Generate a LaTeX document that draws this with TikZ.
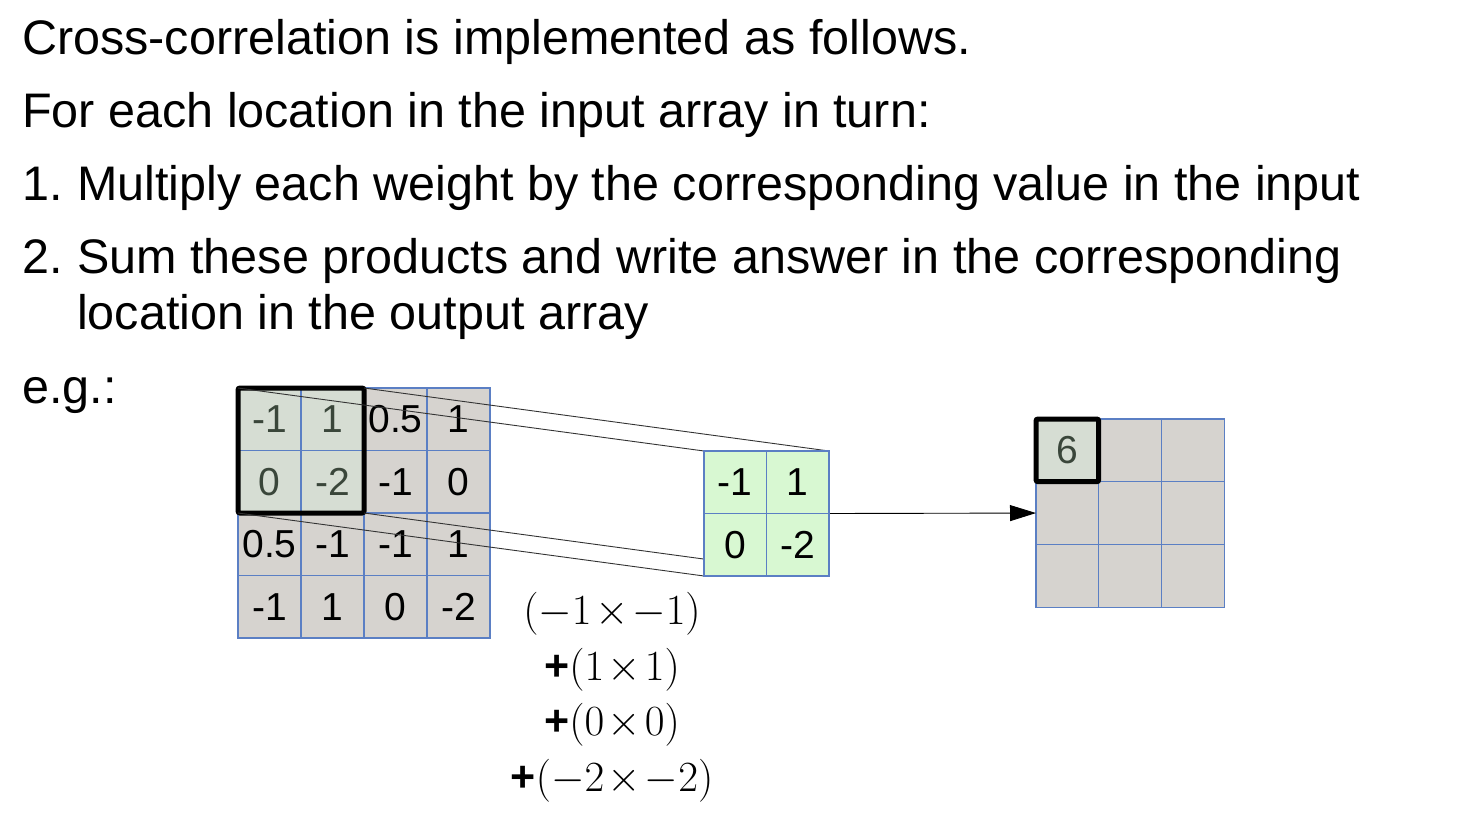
\documentclass[tikz,border=0pt]{standalone}
\usepackage{fix-cm}
\usepackage{fontspec}
\setmainfont{Liberation Sans}
\usetikzlibrary{arrows.meta}
\pgfdeclarelayer{fg}
\pgfsetlayers{main,fg}
\definecolor{cellgray}{HTML}{D6D3CF}
\definecolor{gridblue}{HTML}{5B7FC4}
\definecolor{winfill}{HTML}{D6DDD3}
\definecolor{wintext}{HTML}{3A463A}
\definecolor{kerfill}{HTML}{D8F8D2}
\definecolor{linkgray}{HTML}{333333}
\tikzset{
  cell/.style={draw=gridblue, line width=1.1pt, fill=cellgray, minimum width=63pt, minimum height=62.5pt,
    inner sep=0pt, outer sep=0pt, font=\fontsize{39}{39}\selectfont, text=black},
  hicell/.style={cell, fill=winfill, text=wintext},
  kcell/.style={cell, fill=kerfill, minimum width=62.5pt, minimum height=62.5pt},
  ocell/.style={cell, minimum width=62.7pt, minimum height=62.7pt},
  ohicell/.style={ocell, fill=winfill, text=wintext},
  win/.style={draw=black, line width=5pt, rounded corners=2pt, inner sep=0pt, outer sep=0pt},
  link/.style={draw=linkgray, line width=0.9pt},
  txt/.style={anchor=base west, inner sep=0pt, font=\fontsize{48.5}{58}\selectfont},
}
\begin{document}
\begin{tikzpicture}[x=1pt,y=-1pt]
\useasboundingbox (0,0) rectangle (1460,814);
% text
\node[txt] (t1) at (22,54) {Cross-correlation is implemented as follows.};
\node[txt] (t2) at (22,127) {For each location in the input array in turn:};
\node[txt] (t3) at (22,200) {1.\hspace{0.3em}Multiply each weight by the corresponding value in the input};
\node[txt] (t4) at (22,273) {2.\hspace{0.3em}Sum these products and write answer in the corresponding};
\node[txt] (t5) at (77,329) {location in the output array};
\node[txt] (t6) at (22,403) {e.g.:};
% input grid
\node[hicell] (in11) at (269.5,419.25) {-1};
\node[hicell] (in12) at (332.5,419.25) {1};
\node[cell] (in13) at (395.5,419.25) {0.5};
\node[cell] (in14) at (458.5,419.25) {1};
\node[hicell] (in21) at (269.5,481.75) {0};
\node[hicell] (in22) at (332.5,481.75) {-2};
\node[cell] (in23) at (395.5,481.75) {-1};
\node[cell] (in24) at (458.5,481.75) {0};
\node[cell] (in31) at (269.5,544.25) {0.5};
\node[cell] (in32) at (332.5,544.25) {-1};
\node[cell] (in33) at (395.5,544.25) {-1};
\node[cell] (in34) at (458.5,544.25) {1};
\node[cell] (in41) at (269.5,606.75) {-1};
\node[cell] (in42) at (332.5,606.75) {1};
\node[cell] (in43) at (395.5,606.75) {0};
\node[cell] (in44) at (458.5,606.75) {-2};
\node[win, minimum width=126pt, minimum height=125pt] (win) at (301,450.5) {};
% kernel (drawn above the links)
\begin{pgfonlayer}{fg}
\node[kcell] (k11) at (735.25,482.25) {-1};
\node[kcell] (k12) at (797.75,482.25) {1};
\node[kcell] (k21) at (735.25,544.75) {0};
\node[kcell] (k22) at (797.75,544.75) {-2};
\end{pgfonlayer}
% links
\draw[link] (win.north west) -- (k11.north west);
\draw[link] (win.north east) -- (k12.north east);
\draw[link] (win.south west) -- (k21.south west);
\draw[link] (win.south east) -- (k22.south east);
% output grid
\node[ohicell] (o11) at (1067.35,450.35) {6};
\node[ocell] (o12) at (1130.05,450.35) {};
\node[ocell] (o13) at (1192.75,450.35) {};
\node[ocell] (o21) at (1067.35,513.05) {};
\node[ocell] (o22) at (1130.05,513.05) {};
\node[ocell] (o23) at (1192.75,513.05) {};
\node[ocell] (o31) at (1067.35,575.75) {};
\node[ocell] (o32) at (1130.05,575.75) {};
\node[ocell] (o33) at (1192.75,575.75) {};
\node[win, minimum width=62.7pt, minimum height=62.7pt] (owin) at (o11) {};
% arrow
\draw[line width=0.9pt, -{Triangle[length=26pt,width=16pt]}] (k12.south east) -- (o21.west);
% equation
\node[align=center, inner sep=0pt, font=\fontsize{43}{55.5}\selectfont] (eq) at (612,697)
  {$\medmuskip=1.5mu\relax(-1\times-1)$\\
   {\bfseries +}$\medmuskip=1.5mu\relax(1\times1)$\\
   {\bfseries +}$\medmuskip=1.5mu\relax(0\times0)$\\
   {\bfseries +}$\medmuskip=1.5mu\relax(-2\times-2)$};
\end{tikzpicture}
\end{document}
